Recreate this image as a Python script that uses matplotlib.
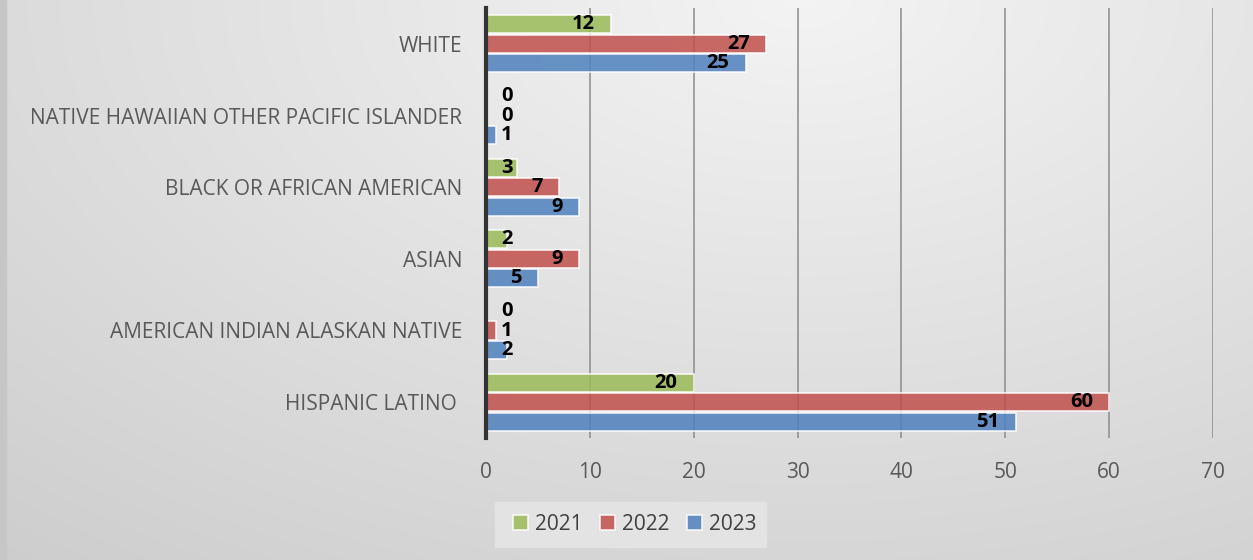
import numpy as np
import matplotlib
matplotlib.use("Agg")
import matplotlib.pyplot as plt
from matplotlib.patches import Rectangle

categories = ["HISPANIC LATINO ", "AMERICAN INDIAN ALASKAN NATIVE", "ASIAN",
              "BLACK OR AFRICAN AMERICAN", "NATIVE HAWAIIAN OTHER PACIFIC ISLANDER", "WHITE"]
series_names = ["2021", "2022", "2023"]
v2021 = [20, 0, 2, 3, 0, 12]
v2022 = [60, 1, 9, 7, 0, 27]
v2023 = [51, 2, 5, 9, 1, 25]
xticks = [0, 10, 20, 30, 40, 50, 60, 70]

colors = ["#9bbb59", "#c0504d", "#4f81bd"]
W, H = 1253, 560
fig = plt.figure(figsize=(W / 100, H / 100), dpi=100)
FAM = ["Open Sans", "DejaVu Sans"]

# background gradient
bg = fig.add_axes([0, 0, 1, 1], zorder=-10)
yy, xx = np.mgrid[0:H, 0:W]
d = np.sqrt(((xx - 800) / W) ** 2 + ((yy - 0) / H) ** 2 * 0.6)
d = d / d.max()
val = 0.955 - 0.15 * d
img = np.dstack([val, val, val])
bg.imshow(img, extent=[0, 1, 0, 1], aspect="auto", origin="upper")
bg.add_patch(Rectangle((0, 0), 6 / W, 1, color="#c6c6c6", transform=bg.transAxes))
# legend box
bg.add_patch(Rectangle((495 / W, 1 - 547 / H), (766 - 495) / W, 45 / H,
                       color="#e3e3e3", transform=bg.transAxes, zorder=2))
bg.set_xlim(0, 1); bg.set_ylim(0, 1)
bg.axis("off")

ax = fig.add_axes([486 / W, 1 - 438 / H, (1213 - 486) / W, 430 / H])
ax.set_facecolor("none")
y = np.arange(len(categories))
pitch = 0.272
hgt = 0.255
offsets = [pitch, 0, -pitch]
for vals, off, c, name in zip([v2021, v2022, v2023], offsets, colors, series_names):
    ax.barh(y + off, vals, height=hgt, color=c, alpha=0.85, edgecolor=(1, 1, 1, 0.6),
            linewidth=1.2, label=name, zorder=3)
    for yi, v in zip(y, vals):
        w = 1.1 * len(str(v))
        if v - 1.55 - w >= 1.45:
            ax.text(v - 1.55, yi + off, str(v), ha="right", va="center", fontsize=14.5,
                    fontweight="bold", color="black", zorder=5, family=FAM)
        else:
            ax.text(1.45, yi + off, str(v), ha="left", va="center", fontsize=14.5,
                    fontweight="bold", color="black", zorder=5, family=FAM)

ax.set_xlim(0, 70)
ax.set_ylim(-0.5, 5.5)
ax.set_xticks(xticks)
ax.set_xticklabels([str(t) for t in xticks])
ax.set_yticks(y)
ax.set_yticklabels(categories)
ax.grid(axis="x", color="#8c8c8c", linewidth=1.1, zorder=1)
ax.set_axisbelow(True)
for s in ["top", "right", "bottom"]:
    ax.spines[s].set_visible(False)
ax.spines["left"].set_color("#333333")
ax.spines["left"].set_linewidth(3)
ax.spines["left"].set_zorder(6)
ax.tick_params(axis="both", length=0, colors="#595959", labelsize=15)
ax.tick_params(axis="x", pad=17)
ax.tick_params(axis="y", pad=17)
for lab in ax.get_xticklabels() + ax.get_yticklabels():
    lab.set_family(FAM)

leg = fig.legend(loc="center", bbox_to_anchor=(635 / W, 1 - 524 / H), ncol=3,
                 frameon=False, handlelength=0.7, handleheight=0.7,
                 handletextpad=0.35, columnspacing=0.85, borderpad=0.3,
                 prop={"family": FAM, "size": 15})
for t in leg.get_texts():
    t.set_color("#404040")

fig.savefig("out.png", dpi=100)
